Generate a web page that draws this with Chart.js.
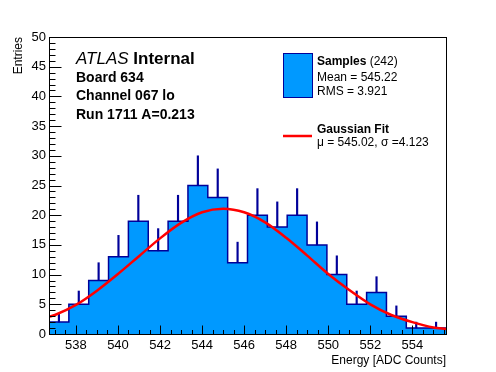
<!DOCTYPE html>
<html>
<head>
<meta charset="utf-8">
<script src="https://cdn.jsdelivr.net/npm/chart.js@4.4.0/dist/chart.umd.min.js"></script>
<style>
    html, body { margin: 0; padding: 0; background: #fff; }
</style>
</head>
<body>
<canvas id="adc-hist" width="496" height="372"></canvas>
<script>
// binning of the histogram
let binLow = 536.72;
let binHigh = 555.60;
let nBins = 20;

// entries per bin
let counts = [2, 5, 9, 13, 19, 14, 19, 25, 23, 12, 20, 18, 20, 15, 10, 5, 7, 3, 1, 1];

// red gaussian fit line
let fitX = [536.72, 537, 538, 539, 540, 541, 542, 543, 544, 545, 546, 547, 548, 549, 550, 551, 552, 553, 554, 555, 555.6];
let fitY = [2.9, 3.2, 4.9, 7.3, 10.1, 13.1, 16.1, 18.7, 20.5, 21.1, 20.5, 18.8, 16.2, 13.2, 10.1, 7.4, 5.0, 3.2, 2.0, 1.1, 0.85];

// tick labels
let xTicks = [538, 540, 542, 544, 546, 548, 550, 552, 554];
let yTicks = [0, 5, 10, 15, 20, 25, 30, 35, 40, 45, 50];

let fillColour = '#0099ff';
let lineColour = '#000099';
let fitColour = '#ff0000';
let fontName = '"Liberation Sans", Arial, Helvetica, sans-serif';

// build the step outline: one point at every low edge, plus the last high edge
let binWidth = (binHigh - binLow) / nBins;
let histPoints = [];
let errPoints = [];
for (let i = 0; i < nBins; i++) {
    let lo = binLow + i * binWidth;
    histPoints.push({x: lo, y: counts[i]});
    errPoints.push({x: lo + binWidth / 2, y: [counts[i], counts[i] + Math.sqrt(counts[i])]});
}
histPoints.push({x: binHigh, y: counts[nBins - 1]});

let fitPoints = fitX.map((x, i) => ({x: x, y: fitY[i]}));

function drawTick(ctx, x1, y1, x2, y2) {
    ctx.beginPath();
    ctx.moveTo(x1, y1);
    ctx.lineTo(x2, y2);
    ctx.stroke();
}

// ROOT style frame with inward ticks, ATLAS label and legend box
let overlayPlugin = {
    id: 'overlay',
    afterDraw(chart) {
        let ctx = chart.ctx;
        let ca = chart.chartArea;
        let xs = chart.scales.x;
        let ys = chart.scales.y;
        let left = Math.round(ca.left) + 0.5;
        let bottom = Math.round(ca.bottom) + 0.5;
        ctx.save();
        ctx.strokeStyle = '#000000';
        ctx.lineWidth = 1;
        ctx.strokeRect(left, Math.round(ca.top) + 0.5,
            Math.round(ca.right - ca.left), Math.round(ca.bottom - ca.top));

        for (let k = 0; k < 38; k++) {
            let v = 537 + k * 0.5;
            if (v > binHigh) break;
            let px = Math.round(xs.getPixelForValue(v)) + 0.5;
            let len = (k % 4 === 2) ? 9 : 4.5;
            drawTick(ctx, px, bottom, px, bottom - len);
        }
        for (let v = 0; v <= 50; v++) {
            let py = Math.round(ys.getPixelForValue(v)) + 0.5;
            let len = (v % 5 === 0) ? 12 : 6;
            drawTick(ctx, left, py, left + len, py);
        }

        let x0 = ca.left + 27;
        ctx.fillStyle = '#000';
        ctx.textBaseline = 'alphabetic';
        ctx.textAlign = 'left';

        ctx.font = 'italic 17px ' + fontName;
        ctx.fillText('ATLAS', x0, ca.top + 27);
        let w = ctx.measureText('ATLAS ').width;
        ctx.font = 'bold 17px ' + fontName;
        ctx.fillText('Internal', x0 + w, ca.top + 27);

        ctx.font = 'bold 14px ' + fontName;
        ctx.fillText('Board 634', x0, ca.top + 45);
        ctx.fillText('Channel 067 lo', x0, ca.top + 63);
        ctx.fillText('Run 1711 A=0.213', x0, ca.top + 82);

        // legend
        let lx = ca.left + 234;
        let tx = ca.left + 268;
        ctx.fillStyle = fillColour;
        ctx.fillRect(lx, ca.top + 16, 29, 44);
        ctx.strokeStyle = lineColour;
        ctx.lineWidth = 1;
        ctx.strokeRect(lx + 0.5, ca.top + 16.5, 29, 44);

        ctx.fillStyle = '#000';
        ctx.font = 'bold 12px ' + fontName;
        ctx.fillText('Samples', tx, ca.top + 27.5);
        w = ctx.measureText('Samples ').width;
        ctx.font = '12px ' + fontName;
        ctx.fillText('(242)', tx + w, ca.top + 27.5);
        ctx.fillText('Mean = 545.22', tx, ca.top + 43.5);
        ctx.fillText('RMS = 3.921', tx, ca.top + 57.5);

        ctx.strokeStyle = fitColour;
        ctx.lineWidth = 2.5;
        drawTick(ctx, lx, ca.top + 99, lx + 29, ca.top + 99);

        ctx.font = 'bold 12px ' + fontName;
        ctx.fillText('Gaussian Fit', tx, ca.top + 95.5);
        ctx.font = '12px ' + fontName;
        ctx.fillText('\u03bc = 545.02, \u03c3 =4.123', tx, ca.top + 108.5);
        ctx.restore();
    }
};

let ctx = document.querySelector('#adc-hist').getContext('2d');

let histChart = new Chart(ctx, {
    data: {
        datasets: [{
            type: 'line',
            label: 'Samples',
            data: histPoints,
            stepped: 'before',
            fill: 'origin',
            backgroundColor: fillColour,
            borderColor: lineColour,
            borderWidth: 1.5,
            pointRadius: 0,
            order: 3
        }, {
            type: 'bar',
            label: 'errors',
            data: errPoints,
            backgroundColor: lineColour,
            barThickness: 1.5,
            order: 2
        }, {
            type: 'line',
            label: 'Gaussian Fit',
            data: fitPoints,
            borderColor: fitColour,
            borderWidth: 2.5,
            pointRadius: 0,
            fill: false,
            cubicInterpolationMode: 'monotone',
            order: 1
        }]
    },
    options: {
        responsive: false,
        animation: false,
        devicePixelRatio: 1,
        layout: {
            padding: {top: 37, right: 50, left: 0, bottom: 0}
        },
        plugins: {
            legend: {display: false},
            tooltip: {enabled: false}
        },
        scales: {
            x: {
                type: 'linear',
                min: binLow,
                max: binHigh,
                offset: false,
                grid: {display: false, drawTicks: false, tickLength: 0},
                border: {display: false},
                afterBuildTicks: (s) => { s.ticks = xTicks.map(v => ({value: v})); },
                afterFit: (s) => { s.height = 38; },
                ticks: {
                    color: '#000',
                    padding: 4,
                    maxRotation: 0,
                    font: {family: fontName, size: 13}
                },
                title: {
                    display: true,
                    text: 'Energy [ADC Counts]',
                    align: 'end',
                    color: '#000',
                    padding: {top: 0, bottom: 4},
                    font: {family: fontName, size: 12}
                }
            },
            y: {
                type: 'linear',
                min: 0,
                max: 50,
                grid: {display: false, drawTicks: false, tickLength: 0},
                border: {display: false},
                afterBuildTicks: (s) => { s.ticks = yTicks.map(v => ({value: v})); },
                afterFit: (s) => { s.width = 49; },
                ticks: {
                    color: '#000',
                    padding: 3,
                    font: {family: fontName, size: 13}
                },
                title: {
                    display: true,
                    text: 'Entries',
                    align: 'end',
                    color: '#000',
                    padding: {top: 11, bottom: 0},
                    font: {family: fontName, size: 12}
                }
            }
        }
    },
    plugins: [overlayPlugin]
});
</script>
</body>
</html>
